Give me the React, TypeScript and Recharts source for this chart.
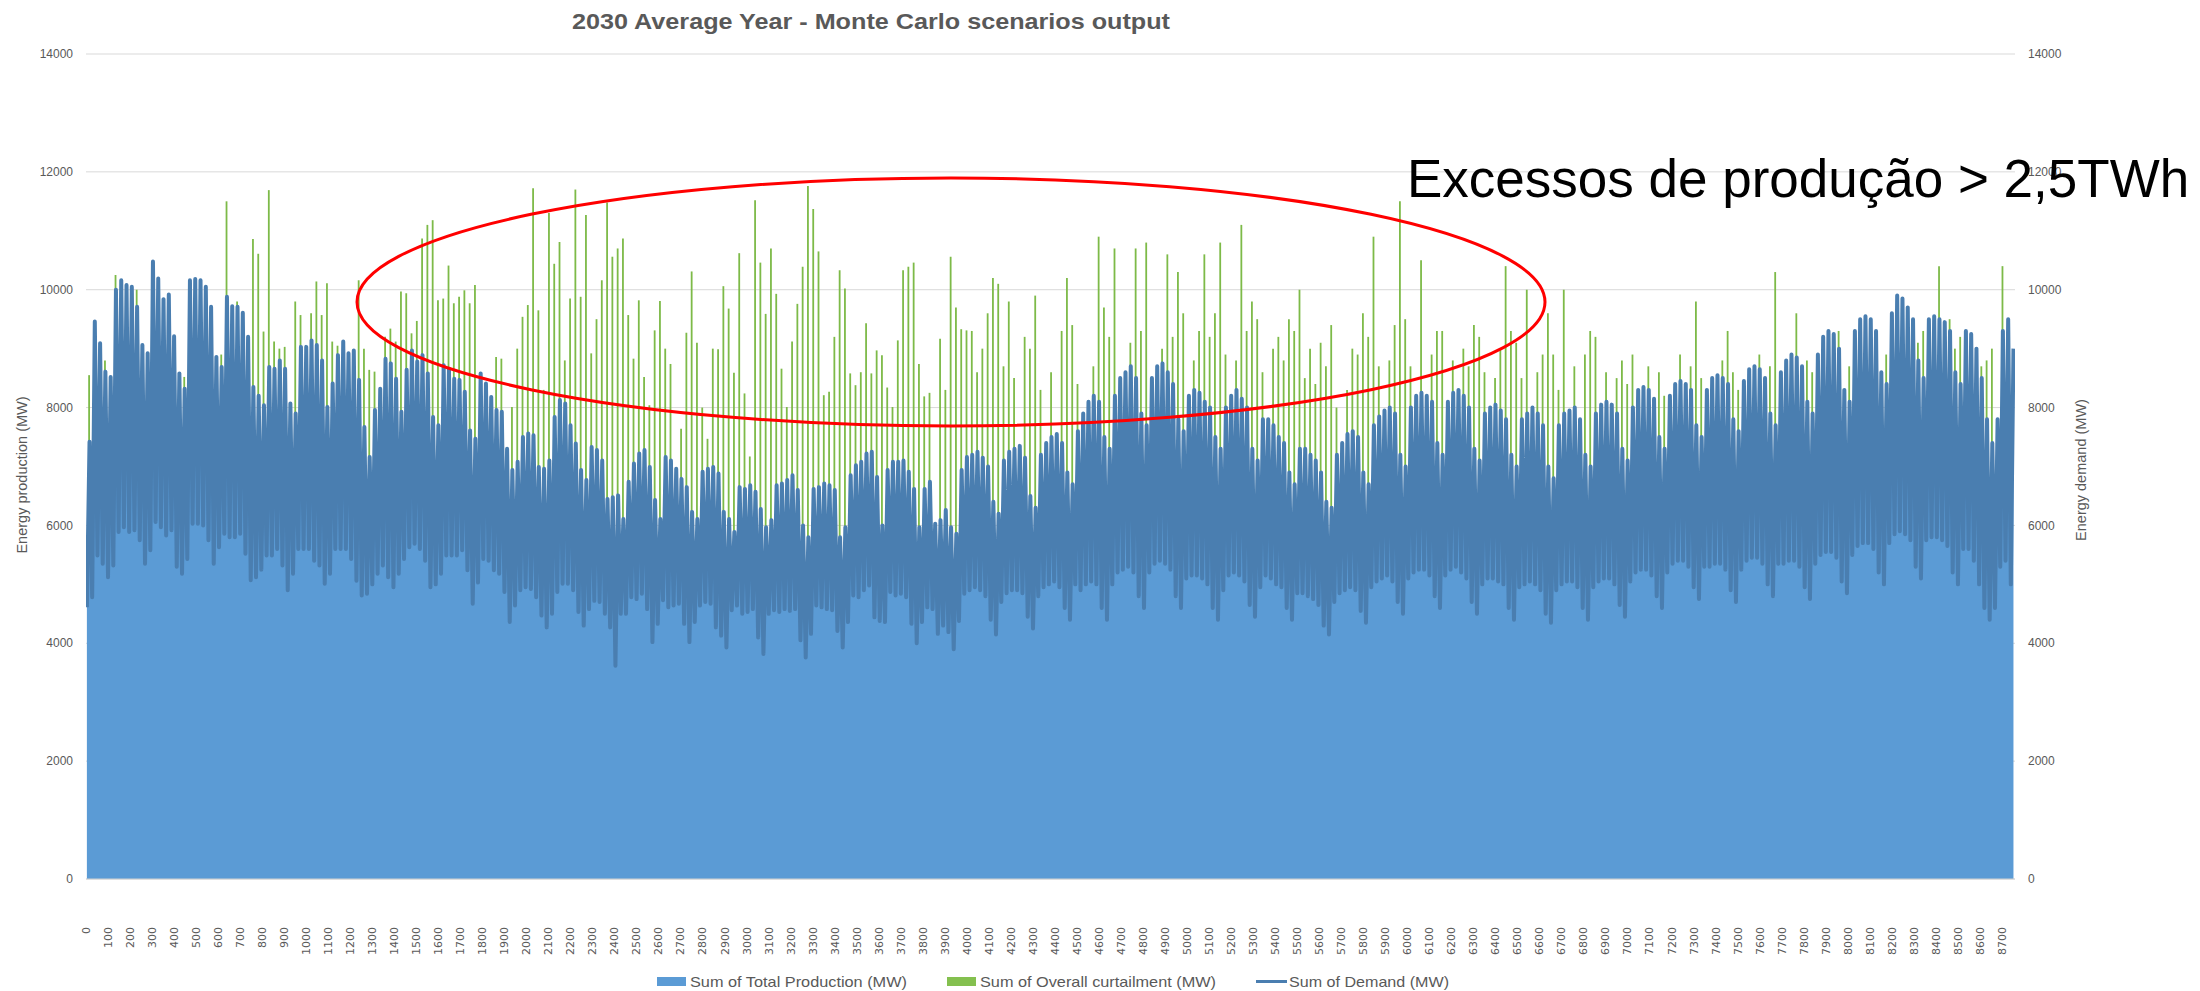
import React from 'react';
import { ComposedChart, Area, Bar, Line, XAxis, YAxis, CartesianGrid } from 'recharts';

// daily readings (MW): night trough, evening peak, top of the curtailment spike
const demandLow = [
  4610, 4780, 5490, 5350, 5120, 5320, 5890, 5970, 5890, 5920, 5750, 5350, 5580, 6060, 5970, 5830, 5920,
  5300, 5180, 5430, 6030, 6030, 6000, 5750, 5350, 5630, 5860, 5800, 5800, 5860, 5520, 5070, 5120, 5250,
  5490, 5490, 5600, 5320, 4900, 5180, 5600, 5600, 5600, 5400, 5320, 5010, 5180, 5600, 5600, 5600, 5430,
  5060, 4810, 4840, 5000, 5180, 5320, 5120, 4950, 5180, 5430, 5630, 5690, 5600, 5400, 4950, 5000,
  5180, 5490, 5490, 5490, 5580, 5240, 4670, 5030, 5430, 5400, 5240, 5180, 4870, 4360, 4640, 4900,
  4950, 4920, 4780, 4470, 4270, 4500, 4870, 5010, 5010, 4900, 4530, 4300, 4580, 4720, 4700, 4500,
  4270, 3620, 4500, 4500, 4780, 4750, 4840, 4580, 4020, 4330, 4730, 4610, 4640, 4670, 4330, 4020, 4360,
  4640, 4700, 4670, 4270, 4130, 3930, 4560, 4640, 4500, 4530, 4580, 4100, 3820, 4500, 4560, 4530, 4580,
  4550, 4580, 4050, 3760, 4160, 4640, 4610, 4580, 4560, 4210, 3930, 4360, 4810, 4780, 4900, 4980, 4440,
  4380, 4360, 4870, 4810, 4840, 4780, 4330, 4000, 4360, 4610, 4580, 4160, 4300, 4190, 3900, 4380, 4840,
  4900, 4950, 4900, 4800, 4400, 4150, 4700, 4850, 4900, 4900, 4850, 4450, 4250, 4800,
  4950, 5000, 5050, 4950, 4600, 4400, 5000, 4900, 5000, 5050, 5000, 4600, 4400, 5000,
  5200, 5250, 5300, 5200, 4800, 4600, 5200, 5350, 5400, 5350, 5250, 4800, 4600, 5100,
  5150, 5150, 5100, 5000, 4600, 4400, 4900, 5150, 5200, 5150, 5050, 4650, 4450, 4950,
  5150, 5100, 5000, 4950, 4600, 4400, 4850, 4850, 4800, 4750, 4650, 4300, 4150, 4700,
  4850, 4900, 4950, 4900, 4550, 4350, 4950, 5050, 5100, 5150, 5050, 4700, 4500, 5100,
  5200, 5250, 5250, 5150, 4800, 4600, 5150, 5250, 5300, 5200, 5100, 4700, 4500, 5000,
  5100, 5100, 5050, 5000, 4600, 4400, 4950, 5000, 5050, 5000, 4900, 4500, 4350, 4900,
  5000, 5050, 5050, 4950, 4600, 4400, 4950, 5050, 5100, 5100, 5000, 4650, 4450, 5050,
  5200, 5250, 5250, 5150, 4800, 4600, 5200, 5350, 5400, 5400, 5300, 4950, 4750, 5300,
  5300, 5350, 5350, 5250, 4900, 4700, 5250, 5400, 5450, 5450, 5350, 5000, 4800, 5350,
  5350, 5400, 5400, 5300, 4950, 4750, 5350, 5500, 5550, 5550, 5450, 5050, 4850, 5500,
  5650, 5700, 5700, 5600, 5200, 5000, 5700, 5850, 5900, 5850, 5750, 5300, 5100, 5750,
  5800, 5800, 5750, 5650, 5200, 5000, 5600, 5600, 5400, 5000, 4600, 4400, 4600, 5300,
  5400, 5000,
];

const demandHigh = [
  7420, 9460, 9090, 8610, 8520, 10000, 10160, 10080, 10050, 9710, 9060, 8920, 10480, 10190, 9840, 9920, 9210,
  8580, 8320, 10160, 10180, 10160, 10050, 9710, 8860, 8690, 9880, 9720, 9710, 9610, 9200, 8350, 8200, 8040,
  8690, 8660, 8800, 8660, 8070, 7900, 9030, 9030, 9140, 9060, 8800, 8010, 8410, 8890, 9120, 8920, 8970,
  8470, 7670, 7160, 7960, 8320, 8830, 8750, 8490, 7930, 8640, 8970, 8780, 8890, 8580, 7840, 7700,
  8720, 8660, 8490, 8470, 8270, 7610, 7470, 8580, 8410, 8180, 7960, 7930, 7300, 6940, 7080, 7500,
  7560, 7530, 6990, 6960, 7100, 7840, 8130, 8070, 7700, 7390, 6940, 6770, 7330, 7280, 7100, 6450,
  6480, 6510, 6110, 6740, 7050, 7220, 7280, 6990, 6430, 6110, 7160, 7100, 6960, 6790, 6650, 6230, 6110,
  6910, 6960, 6990, 6880, 6230, 6110, 5890, 6650, 6620, 6680, 6570, 6280, 5970, 6090, 6680, 6710, 6770,
  6850, 6600, 6000, 5800, 6620, 6650, 6710, 6680, 6600, 5800, 5970, 6850, 7020, 7080, 7220, 7250, 6820,
  6000, 6940, 7080, 7080, 7100, 6910, 6620, 5970, 6620, 6740, 6030, 6090, 6260, 5970, 5860, 6940, 7160,
  7200, 7250, 7150, 7000, 6400, 6200, 7100, 7250, 7300, 7350, 7150, 6500, 6300, 7200,
  7400, 7500, 7550, 7400, 6900, 6700, 7600, 7900, 8100, 8200, 8100, 7500, 7300, 8200,
  8500, 8600, 8700, 8500, 7900, 7700, 8500, 8700, 8750, 8600, 8400, 7800, 7600, 8200,
  8300, 8250, 8100, 8000, 7500, 7300, 8000, 8200, 8300, 8150, 8000, 7300, 7100, 7800,
  7800, 7700, 7500, 7400, 6900, 6700, 7300, 7300, 7200, 7100, 6900, 6400, 6300, 7200,
  7400, 7550, 7600, 7500, 6900, 6700, 7700, 7850, 7950, 8000, 7900, 7200, 7000, 8000,
  8200, 8250, 8200, 8100, 7400, 7200, 8100, 8250, 8300, 8200, 8000, 7300, 7100, 7900,
  8000, 8050, 7950, 7800, 7200, 7000, 7800, 7900, 8000, 7900, 7700, 7000, 6800, 7700,
  7900, 7950, 8000, 7800, 7200, 7000, 7900, 8050, 8100, 8050, 7900, 7300, 7100, 8000,
  8300, 8350, 8300, 8150, 7500, 7300, 8200, 8400, 8450, 8400, 8300, 7700, 7500, 8300,
  8500, 8550, 8500, 8400, 7800, 7600, 8450, 8650, 8700, 8650, 8500, 7900, 7700, 8600,
  8800, 8900, 8850, 8700, 8100, 7900, 8900, 9200, 9300, 9250, 9000, 8300, 8100, 9300,
  9500, 9550, 9500, 9300, 8600, 8400, 9600, 9900, 9850, 9700, 9500, 8800, 8500, 9500,
  9550, 9500, 9450, 9300, 8600, 8400, 9300, 9250, 9000, 8500, 7800, 7400, 7800, 9300,
  9500, 9000,
];

const curtailTop = [
  8550, 0, 0, 8800, 0, 10250, 0, 0, 0, 10000, 0, 0, 0, 0, 0, 0, 0,
  0, 8520, 0, 0, 0, 0, 0, 0, 8900, 11500, 0, 9800, 0, 0, 10860, 10610, 9290,
  11690, 9120, 9000, 9030, 0, 9800, 9570, 0, 9600, 10140, 9570, 10110, 9120, 9050, 0, 0, 0,
  10160, 9000, 8640, 8610, 0, 9200, 9340, 9120, 9970, 9940, 9260, 9470, 10870, 11100, 11180, 9820,
  9850, 10410, 9770, 9880, 9990, 9770, 10080, 0, 0, 0, 8860, 8830, 0, 8010, 9000, 9540,
  9740, 11720, 9650, 8300, 11300, 10440, 10810, 8800, 9850, 11700, 9880, 11270, 8920, 9500, 10160, 11480,
  10560, 10700, 10870, 9570, 8830, 9820, 8520, 8040, 9310, 9810, 9000, 8740, 0, 7640, 9270, 10310, 9100,
  8000, 7470, 9000, 8990, 10060, 9680, 8590, 10620, 8240, 7170, 11520, 10460, 9590, 10700, 9930, 8660, 8010,
  9120, 9760, 10390, 11760, 11370, 10650, 8210, 8270, 9200, 10330, 10020, 8580, 8380, 8600, 9430, 8580, 8970,
  8890, 8340, 8010, 9140, 10330, 10390, 10460, 8740, 8190, 8250, 0, 9170, 8300, 10560, 9700, 9330, 9310,
  9300, 8600, 9000, 9600, 10200, 10100, 8700, 9800, 8500, 0, 9200, 9000, 9900, 8300,
  0, 8600, 0, 9300, 10200, 9400, 8400, 0, 0, 8700, 10900, 9700, 9200, 10700,
  0, 0, 9100, 10700, 9300, 10800, 0, 0, 9000, 10600, 9200, 10300, 9600, 0,
  8800, 9300, 10600, 9200, 9600, 10800, 8900, 0, 8800, 11100, 9300, 9800, 9500, 8600,
  0, 9000, 9200, 8800, 9500, 9300, 10000, 8500, 9000, 8400, 9100, 8700, 9400, 8000,
  0, 8300, 9000, 8900, 9600, 9200, 10900, 8700, 0, 8800, 9400, 11500, 9500, 8700,
  0, 10500, 0, 8900, 9300, 9300, 0, 8800, 0, 9000, 8700, 9400, 9200, 8600,
  0, 8500, 9000, 10400, 9300, 9100, 8500, 10000, 0, 8600, 8900, 9600, 8900, 8300,
  10000, 0, 8700, 0, 8900, 9300, 9200, 0, 8600, 0, 8500, 8800, 8400, 8900,
  0, 0, 8700, 0, 8600, 8200, 0, 0, 8900, 0, 8700, 9800, 8500, 0,
  0, 0, 8800, 9300, 8600, 8300, 0, 0, 0, 8900, 0, 8700, 10300, 0,
  0, 0, 9600, 0, 8800, 8600, 0, 0, 0, 0, 9300, 0, 8700, 0,
  0, 0, 9400, 0, 0, 8900, 0, 0, 0, 0, 0, 9100, 9300, 0,
  0, 10400, 0, 9500, 9000, 9200, 0, 0, 0, 8700, 8800, 9000, 0, 10400,
  0, 0,
];

const mwTicks = [0, 2000, 4000, 6000, 8000, 10000, 12000, 14000];
const hourTicks = Array.from({ length: 88 }, (_, i) => i * 100);

const legendItems = [
  { label: 'Sum of Total Production (MW)', color: '#5B9BD5', kind: 'box' },
  { label: 'Sum of Overall curtailment (MW)', color: '#84C04F', kind: 'box' },
  { label: 'Sum of Demand (MW)', color: '#4A7EB0', kind: 'line' },
];

type Row = { hour: number; production: number; demand: number; curtail: number[] };

const rows: Row[] = [];
demandLow.forEach((low, d) => {
  rows.push({ hour: d * 24 + 4, production: low, demand: low, curtail: [low, low] });
  const high = demandHigh[d];
  const top = curtailTop[d] > high ? curtailTop[d] : high;
  rows.push({ hour: d * 24 + 16, production: high, demand: high, curtail: [high, top] });
});

const grey = '#595959';

const HourTick = (props: any) => {
  const { x, payload } = props;
  return (
    <text
      x={x}
      y={927}
      dy="0.35em"
      transform={`rotate(-90, ${x}, 927)`}
      textAnchor="end"
      fontSize={11}
      fontFamily="DejaVu Sans, Verdana, sans-serif"
      fill={grey}
    >
      {payload.value}
    </text>
  );
};

const LeftTick = (props: any) => (
  <text x={73} y={props.y} dy="0.35em" textAnchor="end" fontSize={12} fontFamily="Liberation Sans, Arial, sans-serif" fill={grey}>
    {props.payload.value}
  </text>
);

const RightTick = (props: any) => (
  <text x={2028} y={props.y} dy="0.35em" textAnchor="start" fontSize={12} fontFamily="Liberation Sans, Arial, sans-serif" fill={grey}>
    {props.payload.value}
  </text>
);

export default function App() {
  const legendX = [657, 947, 1256];
  const legendText = [217, 236, 160];
  return (
    <div style={{ position: 'absolute', left: 0, top: 0, width: 2200, height: 991, background: '#fff' }}>
      <ComposedChart width={2200} height={991} data={rows} margin={{ top: 54, right: 0, bottom: 0, left: 0 }}>
        <CartesianGrid yAxisId="left" vertical={false} stroke="#D9D9D9" />
        <XAxis
          dataKey="hour"
          type="number"
          domain={[0, 8759]}
          ticks={hourTicks}
          interval={0}
          tick={HourTick}
          tickLine={false}
          axisLine={{ stroke: '#D0D0D0' }}
          height={112}
          allowDataOverflow
        />
        <YAxis yAxisId="left" domain={[0, 14000]} ticks={mwTicks} width={86} tick={LeftTick} tickLine={false} axisLine={false} />
        <YAxis yAxisId="right" orientation="right" domain={[0, 14000]} ticks={mwTicks} width={185} tick={RightTick} tickLine={false} axisLine={false} />
        <Area
          yAxisId="left"
          type="linear"
          dataKey="production"
          fill="#5B9BD5"
          fillOpacity={1}
          stroke="none"
          isAnimationActive={false}
        />
        <Bar yAxisId="left" dataKey="curtail" fill="#7DBA48" barSize={1.8} isAnimationActive={false} />
        <Line
          yAxisId="right"
          type="linear"
          dataKey="demand"
          stroke="#4A7EB0"
          strokeWidth={4}
          strokeLinejoin="round"
          dot={false}
          activeDot={false}
          isAnimationActive={false}
        />
      </ComposedChart>

      <svg width={2200} height={991} style={{ position: 'absolute', left: 0, top: 0, pointerEvents: 'none' }}>
        <text
          x={871}
          y={29}
          textAnchor="middle"
          fontSize={22}
          fontWeight="bold"
          fontFamily="Liberation Sans, Arial, sans-serif"
          fill={grey}
          textLength={598}
          lengthAdjust="spacingAndGlyphs"
        >
          2030 Average Year - Monte Carlo scenarios output
        </text>

        <text
          x={22}
          y={475}
          transform="rotate(-90, 22, 475)"
          textAnchor="middle"
          dy="0.35em"
          fontSize={14.5}
          fontFamily="Liberation Sans, Arial, sans-serif"
          fill={grey}
        >
          Energy production (MW)
        </text>
        <text
          x={2081}
          y={470}
          transform="rotate(-90, 2081, 470)"
          textAnchor="middle"
          dy="0.35em"
          fontSize={14.5}
          fontFamily="Liberation Sans, Arial, sans-serif"
          fill={grey}
        >
          Energy demand (MW)
        </text>

        <ellipse cx={951} cy={302} rx={594} ry={124} fill="none" stroke="#FF0000" strokeWidth={3} />
        <text x={1407} y={197} fontSize={53} fontFamily="Liberation Sans, Arial, sans-serif" fill="#000">
          Excessos de produção &gt; 2,5TWh
        </text>

        {legendItems.map((item, i) => (
          <g key={item.label}>
            {item.kind === 'box' ? (
              <rect x={legendX[i]} y={977} width={29} height={9} fill={item.color} />
            ) : (
              <line x1={legendX[i]} x2={legendX[i] + 31} y1={981.5} y2={981.5} stroke={item.color} strokeWidth={3} />
            )}
            <text
              x={legendX[i] + 33}
              y={981.5}
              dy="0.35em"
              fontSize={15}
              fontFamily="Liberation Sans, Arial, sans-serif"
              fill={grey}
              textLength={legendText[i]}
              lengthAdjust="spacingAndGlyphs"
            >
              {item.label}
            </text>
          </g>
        ))}
      </svg>
    </div>
  );
}
